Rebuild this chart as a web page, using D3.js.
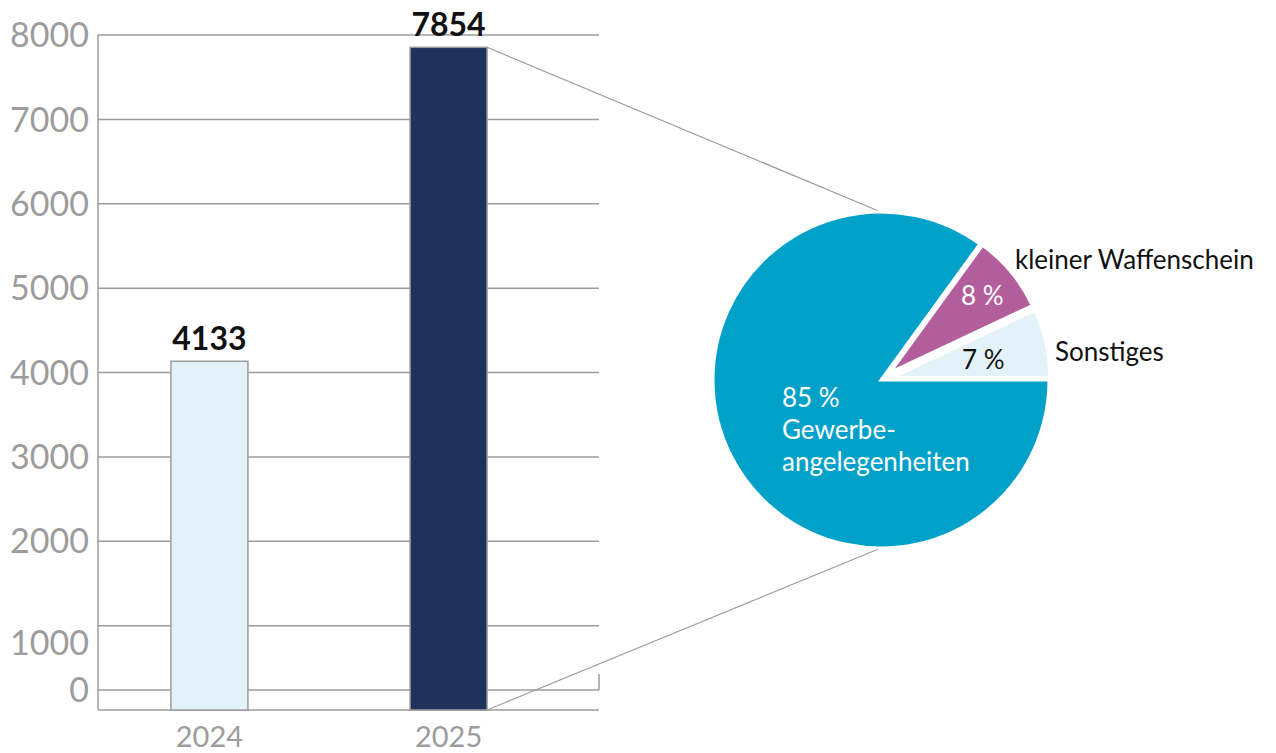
<!DOCTYPE html>
<html>
<head>
<meta charset="utf-8">
<script src="https://cdn.jsdelivr.net/npm/d3@7"></script>
<style>
  body { margin: 0; background: #fff; }
  svg { font-family: Lato, "Noto Sans", sans-serif; }
</style>
</head>
<body>
<svg width="1276" height="753"></svg>
<script>
// bar data
var years = ["2024", "2025"];
var counts = [4133, 7854];
var yTicks = [0, 1000, 2000, 3000, 4000, 5000, 6000, 7000, 8000];

// pie data (share of 2025)
var pieLabels = ["Gewerbeangelegenheiten", "kleiner Waffenschein", "Sonstiges"];
var pieValues = [85, 8, 7];
var pieColors = ["#00a1c9", "#b35e9c", "#e3f2f8"];

var svg = d3.select("svg");
var grey = "#9c9c9c";

var y = d3.scaleLinear().domain([0, 8000]).range([710, 35]);
var x = d3.scaleBand().domain(years).range([98, 560])
    .paddingInner(0.678).paddingOuter(0.305);
var left = 98, right = 599;

// gridlines (the "0" line sits a bit above the baseline, like in the original)
var grid = svg.append("g");
grid.selectAll("line")
    .data(yTicks)
  .enter().append("line")
    .attr("x1", left).attr("x2", right)
    .attr("y1", function(d) { return d === 0 ? y(0) - 20 : y(d); })
    .attr("y2", function(d) { return d === 0 ? y(0) - 20 : y(d); })
    .attr("stroke", grey).attr("stroke-width", 1.5);

// small end tick on the right of the zero line
grid.append("line")
    .attr("x1", right).attr("x2", right)
    .attr("y1", y(0) - 36).attr("y2", y(0) - 20)
    .attr("stroke", grey).attr("stroke-width", 1.5);

// axis lines
svg.append("line")
    .attr("x1", left).attr("x2", left).attr("y1", y(8000)).attr("y2", y(0))
    .attr("stroke", grey).attr("stroke-width", 1.5);
svg.append("line")
    .attr("x1", left).attr("x2", right).attr("y1", y(0)).attr("y2", y(0))
    .attr("stroke", grey).attr("stroke-width", 1.5);

// tick labels
svg.append("g").selectAll("text")
    .data(yTicks)
  .enter().append("text")
    .attr("x", 89)
    .attr("y", function(d) {
      if (d === 0) return y(0) - 20;
      if (d === 1000) return y(d) + 17;
      return y(d);
    })
    .attr("dy", "0.36em")
    .attr("text-anchor", "end")
    .attr("fill", grey)
    .style("font-size", "34px")
    .text(function(d) { return d; });

// connector lines to the pie
var cx = 881, cy = 380, r = 168;
var last = years.length - 1;
svg.append("line")
    .attr("x1", x(years[last]) + x.bandwidth()).attr("y1", y(counts[last]))
    .attr("x2", cx).attr("y2", cy - r)
    .attr("stroke", grey).attr("stroke-width", 1.2);
svg.append("line")
    .attr("x1", x(years[last]) + x.bandwidth()).attr("y1", y(0))
    .attr("x2", cx).attr("y2", cy + r)
    .attr("stroke", grey).attr("stroke-width", 1.2);

// bars
var barFill = ["#e3f2f8", "#20325c"];
svg.append("g").selectAll("rect")
    .data(counts)
  .enter().append("rect")
    .attr("x", function(d, i) { return x(years[i]); })
    .attr("y", function(d) { return y(d); })
    .attr("width", x.bandwidth())
    .attr("height", function(d) { return y(0) - y(d); })
    .attr("fill", function(d, i) { return barFill[i]; })
    .attr("stroke", grey).attr("stroke-width", 1.5);

// value labels
svg.append("g").selectAll("text")
    .data(counts)
  .enter().append("text")
    .attr("x", function(d, i) { return x(years[i]) + x.bandwidth() / 2; })
    .attr("y", function(d) { return y(d) - 11; })
    .attr("text-anchor", "middle")
    .style("font-size", "32px").style("font-weight", "700")
    .attr("fill", "#111")
    .text(function(d) { return d; });

// year labels
svg.append("g").selectAll("text")
    .data(years)
  .enter().append("text")
    .attr("x", function(d) { return x(d) + x.bandwidth() / 2; })
    .attr("y", 747)
    .attr("text-anchor", "middle")
    .attr("fill", grey)
    .style("font-size", "29px")
    .text(function(d) { return d; });

// pie
var pie = d3.pie().sort(null)
    .startAngle(Math.PI / 2).endAngle(Math.PI / 2 + 2 * Math.PI);
var arcs = pie(pieValues);
var arcBig = d3.arc().innerRadius(0).outerRadius(r);
var arcSmall = d3.arc().innerRadius(0).outerRadius(157);
var explode = 12;

var pg = svg.append("g").attr("transform", "translate(" + cx + "," + cy + ")");
pg.selectAll("path")
    .data(arcs)
  .enter().append("path")
    .attr("transform", function(d, i) {
      if (i === 0) return null;
      var a = (d.startAngle + d.endAngle) / 2;
      return "translate(" + (Math.sin(a) * explode) + "," + (-Math.cos(a) * explode) + ")";
    })
    .attr("d", function(d, i) { return i === 0 ? arcBig(d) : arcSmall(d); })
    .attr("fill", function(d, i) { return pieColors[i]; })
    .attr("stroke", "#fff").attr("stroke-width", 3).attr("stroke-linejoin", "miter");

// pie texts
var pct = function(v) { return v + " %"; };
var pt = svg.append("g").style("font-size", "26px");
pt.append("text").attr("x", 782).attr("y", 407).attr("fill", "#fff").text(pct(pieValues[0]));
pt.append("text").attr("x", 782).attr("y", 439).attr("fill", "#fff").text("Gewerbe-");
pt.append("text").attr("x", 782).attr("y", 471).attr("fill", "#fff").text("angelegenheiten");
pt.append("text").attr("x", 961).attr("y", 305).attr("fill", "#fff").text(pct(pieValues[1]));
pt.append("text").attr("x", 962).attr("y", 369).attr("fill", "#111").text(pct(pieValues[2]));
pt.append("text").attr("x", 1015).attr("y", 269).attr("fill", "#111").text(pieLabels[1]);
pt.append("text").attr("x", 1055).attr("y", 361).attr("fill", "#111").text(pieLabels[2]);
</script>
</body>
</html>
